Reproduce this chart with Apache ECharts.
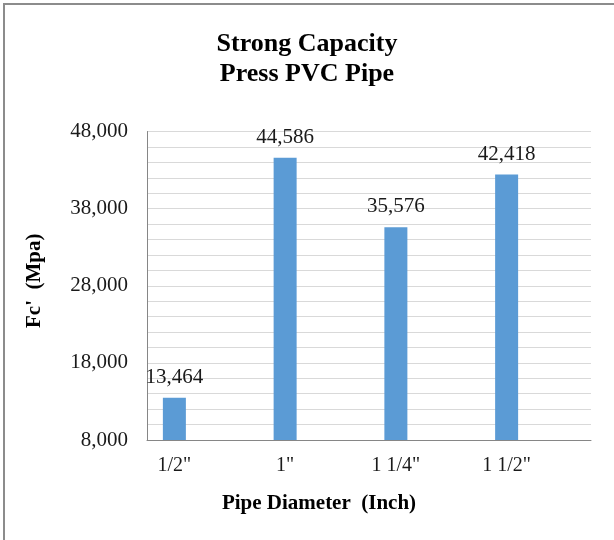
<!DOCTYPE html>
<html>
<head>
<meta charset="utf-8">
<script src="https://cdn.jsdelivr.net/npm/echarts@6/dist/echarts.min.js"></script>
<style>
html,body{margin:0;padding:0;background:#fff;}
#c{width:614px;height:540px;}
</style>
</head>
<body>
<div id="c"></div>
<script>
const categories = ['1/2"', '1"', '1 1/4"', '1 1/2"'];
const values = [13464, 44586, 35576, 42418];
const yMin = 8000, yMax = 48000, yMinor = 2000, yMajor = 10000;

const font = 'Liberation Serif, Times New Roman, serif';
const chart = echarts.init(document.getElementById('c'), null, {renderer: 'canvas'});
chart.setOption({
  animation: false,
  backgroundColor: '#fff',
  title: {
    text: 'Strong Capacity\nPress PVC Pipe',
    left: 'center',
    top: 24,
    textStyle: {fontFamily: font, fontWeight: 'bold', fontSize: 26, lineHeight: 30, color: '#000'}
  },
  graphic: [
    {type: 'line', shape: {x1: 4, y1: 3, x2: 4, y2: 540}, style: {stroke: '#8c8c8c', lineWidth: 2}},
    {type: 'line', shape: {x1: 3, y1: 4, x2: 614, y2: 4}, style: {stroke: '#8c8c8c', lineWidth: 2}}
  ],
  grid: [
    {left: 147, top: 131.5, width: 444, height: 308.5},
    {left: 119, top: 131.5, width: 443, height: 308.5}
  ],
  xAxis: [
    {
      type: 'category', gridIndex: 0, data: categories,
      axisLine: {show: true, lineStyle: {color: '#868686', width: 1}},
      axisTick: {show: false}, axisLabel: {show: false}
    },
    {
      type: 'category', gridIndex: 1, data: categories,
      axisLine: {show: false}, axisTick: {show: false},
      axisLabel: {fontFamily: font, fontSize: 20, color: '#1a1a1a', margin: 16},
      name: 'Pipe Diameter  (Inch)', nameLocation: 'middle', nameGap: 53,
      nameTextStyle: {fontFamily: font, fontWeight: 'bold', fontSize: 21, color: '#000', padding: [0, 43, 0, 0]}
    }
  ],
  yAxis: [
    {
      type: 'value', gridIndex: 0, min: yMin, max: yMax, interval: yMinor,
      axisLine: {show: true, lineStyle: {color: '#868686', width: 1}},
      axisTick: {show: false},
      splitLine: {show: true, lineStyle: {color: '#d9d9d9', width: 1}},
      axisLabel: {
        fontFamily: font, fontSize: 21, color: '#1a1a1a', margin: 19,
        formatter: v => ((v - yMin) % yMajor === 0 ? v.toLocaleString('en-US') : '')
      },
      name: "Fc'  (Mpa)", nameLocation: 'middle', nameGap: 102,
      nameTextStyle: {fontFamily: font, fontWeight: 'bold', fontSize: 21, color: '#000', padding: [0, 0, 0, 10]}
    },
    {
      type: 'value', gridIndex: 1, min: yMin, max: yMax, interval: yMinor,
      show: false, splitLine: {show: false}
    }
  ],
  series: [{
    type: 'bar', xAxisIndex: 1, yAxisIndex: 1, data: values, barWidth: 23,
    itemStyle: {color: '#5b9bd5'},
    label: {
      show: true, position: 'top', distance: 10,
      fontFamily: font, fontSize: 21, color: '#1a1a1a',
      formatter: p => p.value.toLocaleString('en-US')
    }
  }]
});
</script>
</body>
</html>
